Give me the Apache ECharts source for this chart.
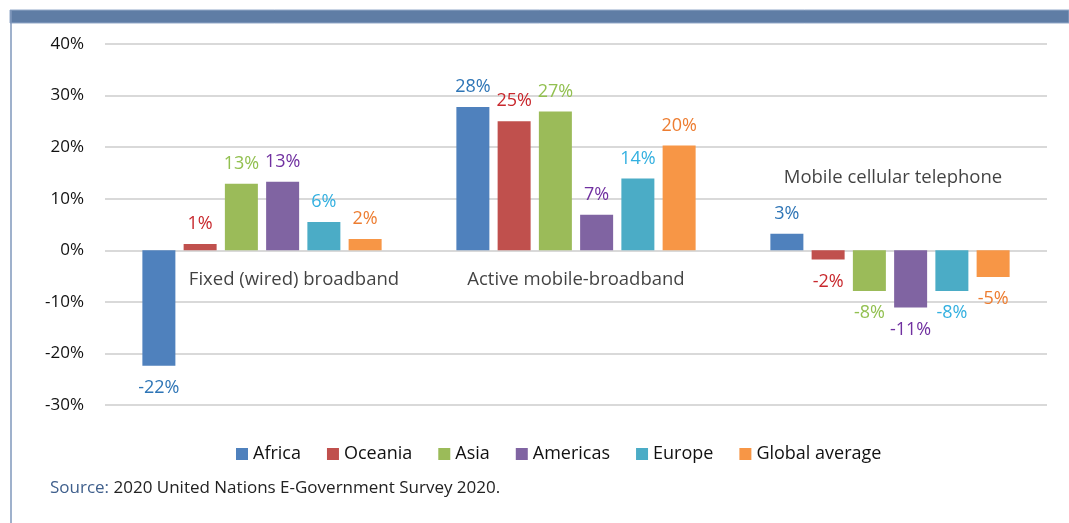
<!DOCTYPE html>
<html>
<head>
<meta charset="utf-8">
<script src="https://cdn.jsdelivr.net/npm/echarts@6/dist/echarts.min.js"></script>
<style>
html,body{margin:0;padding:0;background:#fff;}
#c{width:1069px;height:523px;}
</style>
</head>
<body>
<div id="c"></div>
<script>
// ---- data ----
const groups = ['Fixed (wired) broadband', 'Active mobile-broadband', 'Mobile cellular telephone'];
const regions = ['Africa', 'Oceania', 'Asia', 'Americas', 'Europe', 'Global average'];
const fixedBroadband = [-22.4, 1.2, 12.9, 13.3, 5.5, 2.2];
const activeMobileBroadband = [27.8, 25.0, 26.9, 6.9, 13.9, 20.3];
const mobileCellular = [3.2, -1.8, -7.9, -11.1, -7.9, -5.2];
const yTicks = [-30, -20, -10, 0, 10, 20, 30, 40];
const sourceLabel = 'Source:';
const sourceText = ' 2020 United Nations E-Government Survey 2020.';

// ---- styles ----
const barColors = ['#4f81bd', '#c0504d', '#9bbb59', '#8064a2', '#4bacc6', '#f79646'];
const labelColors = ['#2e75b6', '#c8282d', '#92c050', '#7030a0', '#33b0e0', '#ed7d31'];
const FONT = '"Open Sans", Lato, sans-serif';

const seriesValues = regions.map((r, i) => [fixedBroadband[i], activeMobileBroadband[i], mobileCellular[i]]);

const series = regions.map((r, i) => ({
  name: r,
  type: 'bar',
  barWidth: 33,
  barGap: '25%',
  itemStyle: { color: barColors[i] },
  label: {
    show: true,
    position: 'top',
    distance: 11,
    color: labelColors[i],
    fontFamily: FONT,
    fontSize: 18,
    formatter: p => Math.round(p.value) + '%'
  },
  data: seriesValues[i].map(v => v < 0
    ? { value: v, label: { position: 'bottom', distance: 13 } }
    : { value: v })
}));

// group name labels (placed through the axes)
series.push({
  name: 'groupLabels',
  type: 'scatter',
  symbolSize: 0,
  silent: true,
  label: {
    show: true,
    position: 'inside',
    color: '#111',
    fontFamily: FONT,
    fontSize: 18.5,
    formatter: p => groups[p.value[0]]
  },
  data: [
    { value: [0, -5.7], label: { offset: [32, 0] } },
    { value: [1, -5.7], label: { offset: [0, 0] } },
    { value: [2, 14.0], label: { offset: [3, 0] } }
  ]
});

const chart = echarts.init(document.getElementById('c'), null, { renderer: 'canvas' });
chart.setOption({
  animation: false,
  backgroundColor: '#fff',
  grid: { left: 105, right: 22, top: 44, bottom: 118, containLabel: false },
  xAxis: {
    type: 'category',
    data: groups,
    axisLine: { show: false },
    axisTick: { show: false },
    axisLabel: { show: false },
    splitLine: { show: false }
  },
  yAxis: {
    type: 'value',
    min: yTicks[0],
    max: yTicks[yTicks.length - 1],
    interval: 10,
    axisLine: { show: false },
    axisTick: { show: false },
    axisLabel: {
      formatter: v => v + '%',
      color: '#111',
      fontFamily: FONT,
      fontSize: 17,
      margin: 21
    },
    splitLine: { lineStyle: { color: '#d9d9d9', width: 2 } }
  },
  legend: {
    data: regions,
    left: 231,
    top: 440,
    itemWidth: 12,
    itemHeight: 12,
    itemGap: 26,
    icon: 'rect',
    textStyle: { color: '#111', fontFamily: FONT, fontSize: 18 }
  },
  graphic: [
    { type: 'rect', shape: { x: 10, y: 10, width: 1059, height: 13 }, style: { fill: '#5f7da5', stroke: '#93a9c8', lineWidth: 1 }, silent: true },
    { type: 'line', shape: { x1: 11, y1: 10, x2: 11, y2: 523 }, style: { stroke: '#7f97bb', lineWidth: 1.5 }, silent: true },
    {
      type: 'text', left: 50, top: 480, silent: true,
      style: {
        text: '{a|' + sourceLabel + '}{b|' + sourceText + '}',
        rich: {
          a: { fill: '#3f5f8c', fontFamily: FONT, fontSize: 17 },
          b: { fill: '#222', fontFamily: FONT, fontSize: 17 }
        }
      }
    }
  ],
  series: series
});
</script>
</body>
</html>
